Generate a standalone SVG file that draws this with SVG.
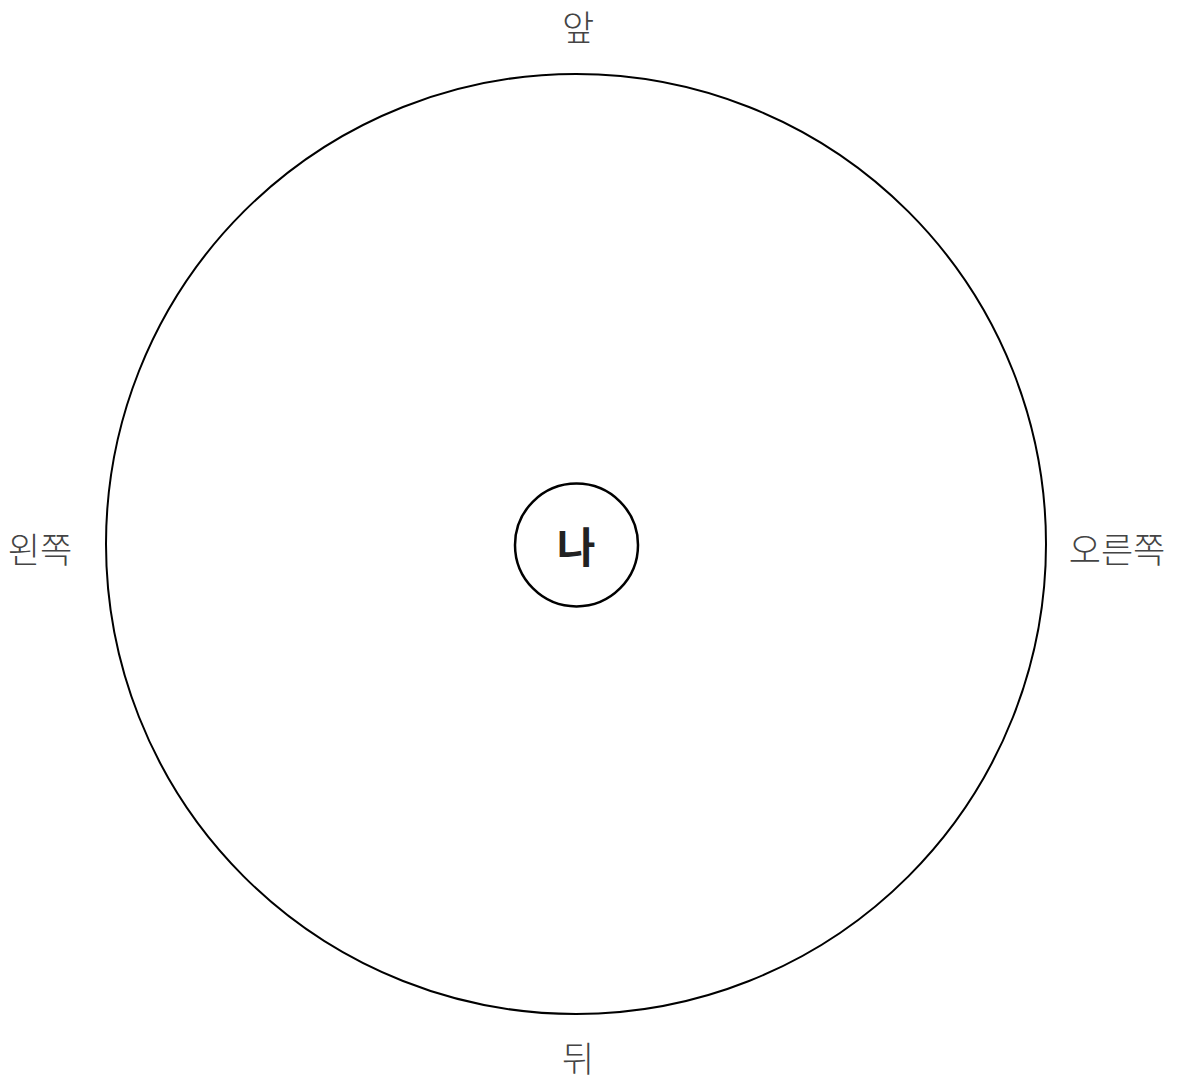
<svg xmlns="http://www.w3.org/2000/svg" width="1181" height="1082" viewBox="0 0 1181 1082">
<style>
.lbl{font-family:"Noto Sans CJK KR","Noto Sans",sans-serif;font-size:35px;font-weight:300;fill:#444;text-anchor:middle}
.me{font-family:"Noto Sans CJK KR","Noto Sans",sans-serif;font-size:42px;font-weight:700;fill:#222;text-anchor:middle}
.ring{fill:none;stroke:#000}
</style>
<rect width="1181" height="1082" fill="#fff"/>
<g id="field"><circle class="ring" cx="576" cy="544" r="470" stroke-width="2"/></g>
<g id="me"><circle class="ring" cx="576.5" cy="545" r="61.5" stroke-width="2.5"/><text class="me" x="576" y="563">나</text></g>
<g id="front"><text class="lbl" x="578" y="41">앞</text></g>
<g id="left"><text class="lbl" x="40" y="563">왼쪽</text></g>
<g id="right"><text class="lbl" x="1117" y="563">오른쪽</text></g>
<g id="back"><text class="lbl" x="578" y="1072">뒤</text></g>
<g id="connectors"></g>
</svg>
